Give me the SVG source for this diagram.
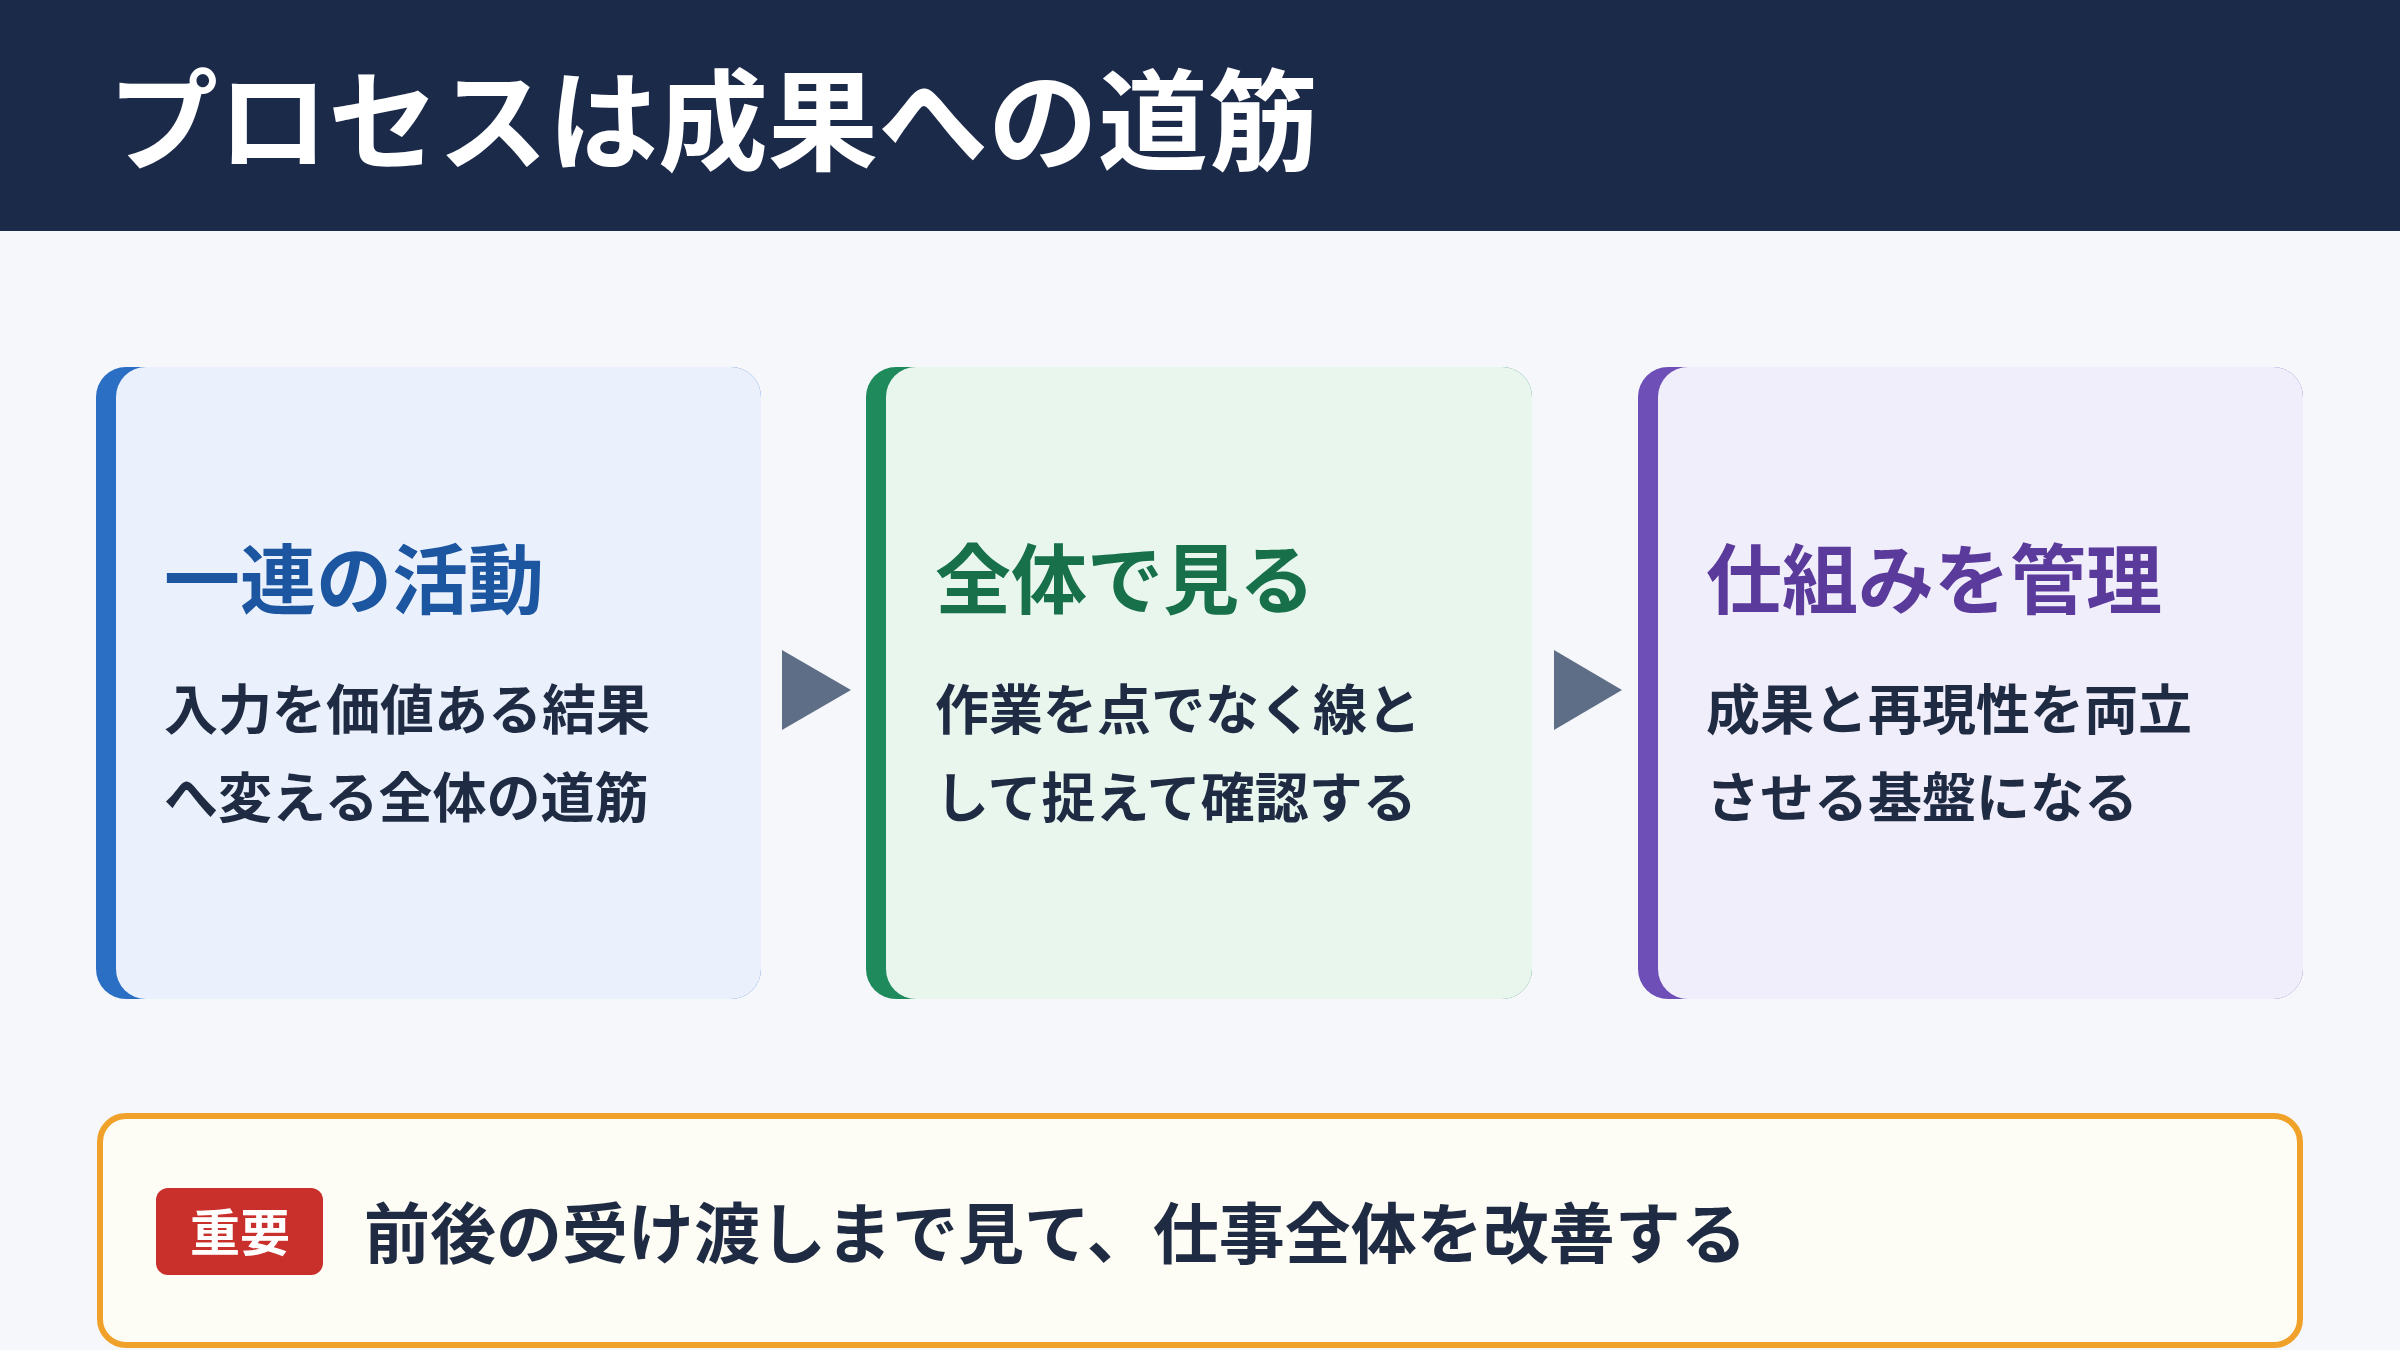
<svg xmlns="http://www.w3.org/2000/svg" width="2400" height="1350" viewBox="0 0 2400 1350">
<style>
text{font-family:"Noto Sans CJK JP","Noto Sans",sans-serif;font-weight:700}
.h{fill:#fff;font-size:110px}
.t{font-size:76px}
.b{fill:#1f2b42;font-size:54px}
.arr{fill:#5f6e87}
</style>
<rect width="2400" height="1350" fill="#f5f7fb"/>
<g id="header"><rect width="2400" height="231" fill="#1c2a4a"/><text class="h" x="108" y="162">プロセスは成果への道筋</text></g>
<g id="card1"><rect x="96" y="367" width="665" height="632" rx="30" fill="#2a6fc4"/><rect x="116" y="367" width="645" height="632" rx="30" fill="#eaf1fd"/>
<text class="t" x="164" y="608" fill="#1d56a0">一連の活動</text>
<text class="b" x="164" y="730">入力を価値ある結果</text><text class="b" x="164" y="818">へ変える全体の道筋</text></g>
<g id="card2"><rect x="866" y="367" width="666" height="632" rx="30" fill="#1f8a5b"/><rect x="886" y="367" width="646" height="632" rx="30" fill="#e9f6ee"/>
<text class="t" x="935" y="608" fill="#17704a">全体で見る</text>
<text class="b" x="935" y="730">作業を点でなく線と</text><text class="b" x="935" y="818">して捉えて確認する</text></g>
<g id="card3"><rect x="1638" y="367" width="665" height="632" rx="30" fill="#6e4fb8"/><rect x="1658" y="367" width="645" height="632" rx="30" fill="#f1eefb"/>
<text class="t" x="1706" y="608" fill="#5a3a9a">仕組みを管理</text>
<text class="b" x="1706" y="730">成果と再現性を両立</text><text class="b" x="1706" y="818">させる基盤になる</text></g>
<g id="connectors"><polygon class="arr" points="782,650 851,690 782,730"/><polygon class="arr" points="1554,650 1622,690 1554,730"/></g>
<g id="note"><rect x="100" y="1116" width="2200" height="229" rx="26" fill="#fdfcf5" stroke="#f0a12a" stroke-width="6"/>
<rect x="156" y="1188" width="167" height="87" rx="12" fill="#c9302c"/>
<text x="240" y="1251" fill="#fff" font-size="50" text-anchor="middle">重要</text>
<text x="364" y="1258" fill="#1f2b42" font-size="66">前後の受け渡しまで見て、仕事全体を改善する</text></g>
</svg>
